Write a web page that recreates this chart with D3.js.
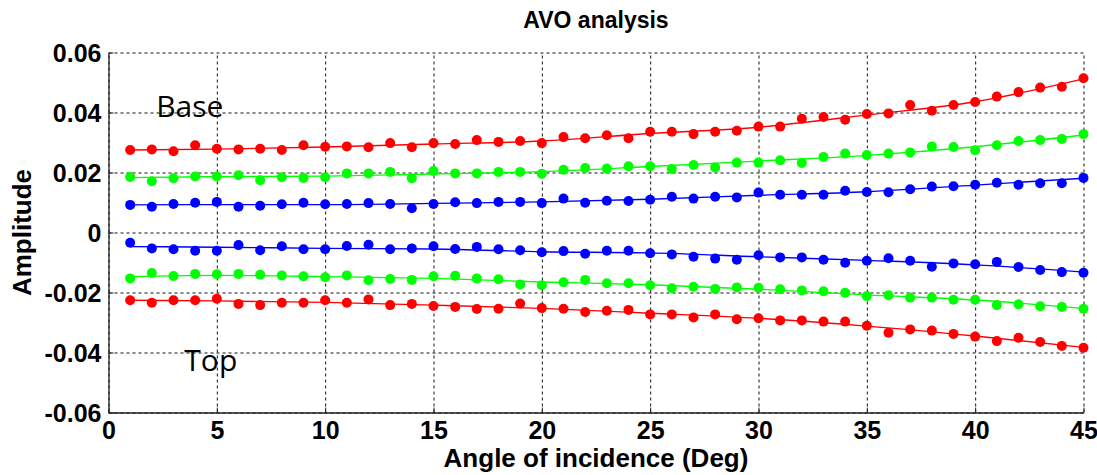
<!DOCTYPE html>
<html>
<head>
<meta charset="utf-8">
<script src="https://cdn.jsdelivr.net/npm/d3@7/dist/d3.min.js"></script>
<style>
    body { margin: 0; background: #fff; }
    text { font-family: "Liberation Sans", Arial, sans-serif; }
    .tick-label { font-size: 25px; font-weight: bold; }
    .axis-title { font-size: 26px; font-weight: bold; }
    .chart_title { font-size: 23px; font-weight: bold; }
    .note { font-size: 30px; font-family: "Open Sans", sans-serif; }
</style>
</head>
<body>
<div id="chart-area"></div>
<script>

// DATA
var angles = [1,2,3,4,5,6,7,8,9,10,11,12,13,14,15,16,17,18,19,20,21,22,23,
    24,25,26,27,28,29,30,31,32,33,34,35,36,37,38,39,40,41,42,43,44,45];

var baseRed = [0.0275,0.0277,0.0271,0.0291,0.0279,0.0277,0.0279,0.0275,0.0291,0.0286,
    0.0287,0.0284,0.0298,0.0284,0.0298,0.0295,0.0308,0.0302,0.0305,0.0298,
    0.0318,0.0314,0.0324,0.0314,0.0336,0.0336,0.0328,0.0336,0.0339,0.0353,
    0.0353,0.0379,0.0385,0.0376,0.0395,0.0397,0.0425,0.0406,0.0425,0.0435,
    0.0453,0.0468,0.0483,0.0486,0.0514];

var baseGreen = [0.0185,0.0171,0.0181,0.0187,0.0187,0.0191,0.0174,0.0184,0.0182,0.0184,
    0.0197,0.0197,0.0202,0.0181,0.0205,0.0197,0.0197,0.0202,0.0202,0.0196,
    0.0209,0.0215,0.0213,0.0221,0.0221,0.0212,0.0225,0.0217,0.0233,0.0233,
    0.0241,0.0232,0.0252,0.0263,0.0258,0.0263,0.0267,0.0287,0.0285,0.0274,
    0.0291,0.0305,0.0308,0.0312,0.0328];

var baseBlue = [0.0092,0.0086,0.0095,0.0099,0.0102,0.0086,0.0089,0.0094,0.0099,0.0094,
    0.0095,0.0098,0.0095,0.0081,0.0095,0.0101,0.0098,0.0102,0.0102,0.0098,
    0.0113,0.0099,0.0106,0.0105,0.0109,0.0119,0.0113,0.0119,0.0117,0.0133,
    0.0126,0.0126,0.0126,0.0139,0.0135,0.0134,0.0144,0.0153,0.0154,0.0159,
    0.0166,0.0159,0.0164,0.0164,0.0182];

var topBlue = [-0.0034,-0.0053,-0.0056,-0.0061,-0.0061,-0.0042,-0.0059,-0.0046,-0.0056,-0.0056,
    -0.0045,-0.0041,-0.0056,-0.0053,-0.0046,-0.0055,-0.0048,-0.0056,-0.0059,-0.0066,
    -0.0062,-0.0071,-0.0061,-0.0061,-0.0069,-0.0073,-0.0081,-0.0087,-0.0091,-0.0076,
    -0.0083,-0.0083,-0.0091,-0.0101,-0.0094,-0.0086,-0.0094,-0.0114,-0.0103,-0.0106,
    -0.0098,-0.0115,-0.0125,-0.0132,-0.0134];

var topGreen = [-0.0153,-0.0135,-0.0145,-0.0138,-0.0139,-0.0138,-0.0141,-0.0143,-0.0146,-0.0149,
    -0.0143,-0.0159,-0.0155,-0.0158,-0.0146,-0.0144,-0.0153,-0.0156,-0.0173,-0.0176,
    -0.0166,-0.0158,-0.0169,-0.0169,-0.0176,-0.0186,-0.0181,-0.0188,-0.0183,-0.0184,
    -0.0189,-0.0193,-0.0196,-0.0201,-0.0212,-0.0209,-0.0217,-0.0217,-0.0224,-0.0224,
    -0.0242,-0.0239,-0.0246,-0.0248,-0.0254];

var topRed = [-0.0226,-0.0234,-0.0226,-0.0226,-0.0221,-0.0238,-0.0242,-0.0234,-0.0234,-0.0226,
    -0.0234,-0.0223,-0.0242,-0.0238,-0.0245,-0.0248,-0.0255,-0.0254,-0.0237,-0.0252,
    -0.0254,-0.0265,-0.0261,-0.0258,-0.0273,-0.0273,-0.0283,-0.0273,-0.0289,-0.0286,
    -0.0293,-0.0293,-0.0297,-0.0297,-0.0311,-0.0334,-0.0323,-0.0327,-0.0338,-0.0347,
    -0.0362,-0.0351,-0.0365,-0.0378,-0.0384];

// fitted trend lines, read at a few angles
var fitAngles = [1,5,10,15,20,25,30,35,40,45];
var baseRedFit   = [0.0275,0.0278,0.0285,0.0295,0.0305,0.0330,0.0351,0.0392,0.0436,0.0512];
var baseGreenFit = [0.0183,0.0186,0.0188,0.0195,0.0203,0.0220,0.0238,0.0257,0.0286,0.0325];
var baseBlueFit  = [0.0092,0.0093,0.0093,0.0097,0.0102,0.0111,0.0124,0.0136,0.0158,0.0181];
var topBlueFit   = [-0.0047,-0.0049,-0.0053,-0.0055,-0.0064,-0.0068,-0.0081,-0.0093,-0.0108,-0.0132];
var topGreenFit  = [-0.0147,-0.0143,-0.0147,-0.0153,-0.0165,-0.0174,-0.0189,-0.0208,-0.0225,-0.0253];
var topRedFit    = [-0.0226,-0.0228,-0.0233,-0.0242,-0.0253,-0.0269,-0.0286,-0.0312,-0.0345,-0.0383];

var xTicks = [0,5,10,15,20,25,30,35,40,45];
var yTicks = [-0.06,-0.04,-0.02,0,0.02,0.04,0.06];
var yTickLabels = ["-0.06","-0.04","-0.02","0","0.02","0.04","0.06"];

var series = [
    {values: baseRed,   fit: baseRedFit,   color: "#ff0000"},
    {values: baseGreen, fit: baseGreenFit, color: "#00ff00"},
    {values: baseBlue,  fit: baseBlueFit,  color: "#0000ff"},
    {values: topBlue,   fit: topBlueFit,   color: "#0000ff"},
    {values: topGreen,  fit: topGreenFit,  color: "#00ff00"},
    {values: topRed,    fit: topRedFit,    color: "#ff0000"}
];

// SVG drawing area
var margin = {top: 52.5, right: 13.5, bottom: 62.5, left: 108.5};

var width = 1097 - margin.left - margin.right,
    height = 475 - margin.top - margin.bottom;

var svg = d3.select("#chart-area").append("svg")
    .attr("width", width + margin.left + margin.right)
    .attr("height", height + margin.top + margin.bottom)
    .append("g")
    .attr("transform", "translate(" + margin.left + "," + margin.top + ")");

//SCALES
var x = d3.scaleLinear()
    .domain([0, 45])
    .range([0, width]);

var y = d3.scaleLinear()
    .domain([-0.06, 0.06])
    .range([height, 0]);

//GRID
svg.append("g")
    .attr("class", "grid")
    .call(d3.axisBottom(x).tickValues(xTicks).tickSize(-height).tickFormat(""))
    .attr("transform", "translate(0," + height + ")");

svg.append("g")
    .attr("class", "grid")
    .call(d3.axisLeft(y).tickValues(yTicks).tickSize(-width).tickFormat(""));

svg.selectAll(".grid .domain").remove();
svg.selectAll(".grid line")
    .attr("stroke", "#111")
    .attr("stroke-width", 1)
    .attr("stroke-dasharray", "3,3");

//AXES
var xAxis = svg.append("g")
    .attr("class", "axis x-axis")
    .attr("transform", "translate(0," + height + ")")
    .call(d3.axisBottom(x).tickValues(xTicks).tickSizeInner(-5).tickSizeOuter(0).tickPadding(9));

var yAxis = svg.append("g")
    .attr("class", "axis y-axis")
    .call(d3.axisLeft(y).tickValues(yTicks).tickSizeInner(-5).tickSizeOuter(0).tickPadding(7)
        .tickFormat(function(d, i) { return yTickLabels[i]; }));

svg.selectAll(".axis .domain").attr("stroke", "#222").attr("stroke-width", 1.3);
svg.selectAll(".axis line").attr("stroke", "#222");
svg.selectAll(".axis text")
    .attr("class", "tick-label")
    .attr("fill", "#000")
    .style("font-family", "'Liberation Sans', Arial, sans-serif");

xAxis.selectAll("text").attr("dy", "0.71em");
yAxis.selectAll("text").attr("dy", "0.36em");

//LINES + DOTS
var drawLine = d3.line()
    .x(function(d) { return x(d[0]); })
    .y(function(d) { return y(d[1]); })
    .curve(d3.curveMonotoneX);

series.forEach(function(s) {
    var fitData = fitAngles.map(function(a, i) { return [a, s.fit[i]]; });
    svg.append("path")
        .attr("class", "line")
        .attr("d", drawLine(fitData))
        .attr("fill", "none")
        .attr("stroke", s.color)
        .attr("stroke-width", 1.4);

    svg.append("g").selectAll("circle")
        .data(s.values)
        .enter().append("circle")
        .attr("class", "dot")
        .attr("cx", function(d, i) { return x(angles[i]); })
        .attr("cy", function(d) { return y(d); })
        .attr("r", 5)
        .attr("fill", s.color);
});

//LABELS
svg.append("text")
    .attr("class", "chart_title")
    .attr("x", width / 2)
    .attr("y", -24.5)
    .style("text-anchor", "middle")
    .text("AVO analysis");

svg.append("text")
    .attr("class", "axis-title")
    .attr("x", width / 2)
    .attr("y", height + 54.5)
    .style("text-anchor", "middle")
    .text("Angle of incidence (Deg)");

svg.append("text")
    .attr("class", "axis-title")
    .attr("transform", "rotate(270)")
    .attr("x", -height / 2)
    .attr("y", -77.5)
    .style("text-anchor", "middle")
    .text("Amplitude");

svg.append("text")
    .attr("class", "note")
    .attr("x", x(2.2))
    .attr("y", y(0.0385))
    .text("Base");

svg.append("text")
    .attr("class", "note")
    .attr("x", x(3.5))
    .attr("y", y(-0.0460))
    .text("Top");

</script>
</body>
</html>
